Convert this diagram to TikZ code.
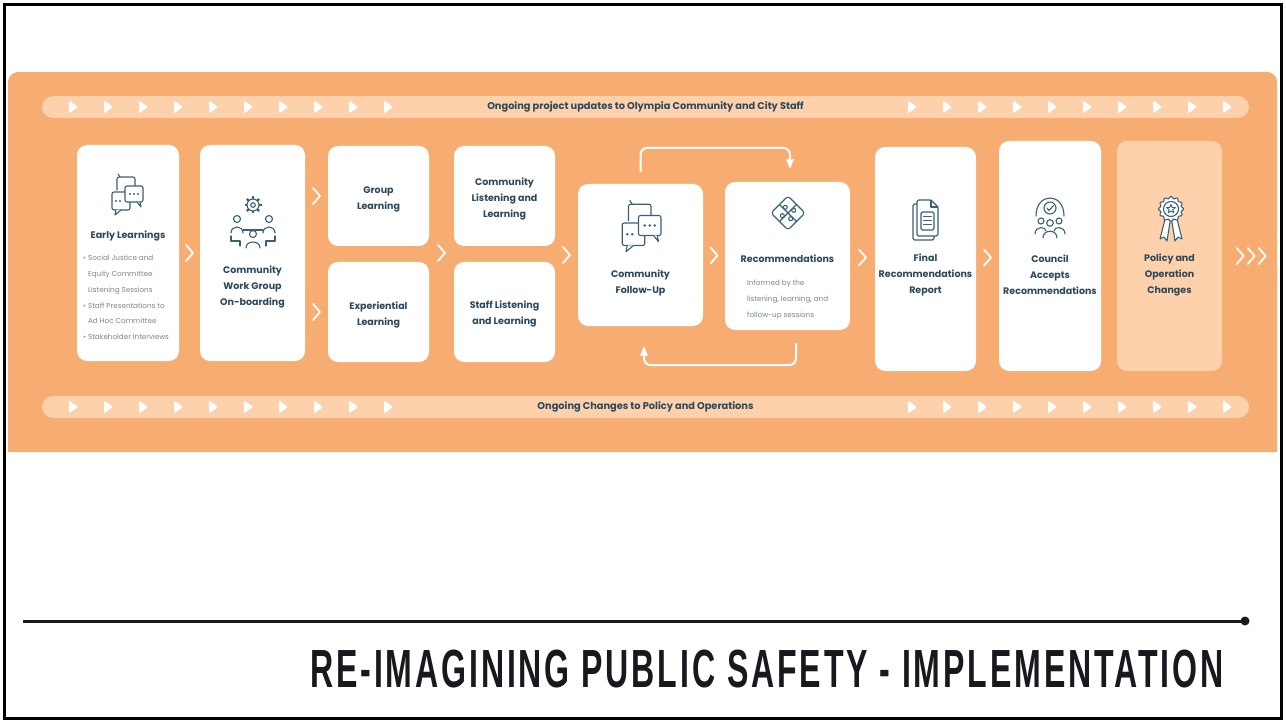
\documentclass[tikz,border=0pt]{standalone}
\usepackage{fontspec}
\setmainfont{Poppins}
\newfontfamily\titlefont[FakeStretch=0.56, LetterSpace=5]{Liberation Sans}
\usetikzlibrary{arrows,calc,positioning}

\definecolor{panel}{RGB}{247,173,113}
\definecolor{pale}{RGB}{252,209,172}
\definecolor{ink}{RGB}{44,72,92}
\definecolor{notegrey}{RGB}{120,134,145}
\definecolor{iconc}{RGB}{58,96,118}
\definecolor{titleink}{RGB}{24,24,30}

% small marks and icons
\tikzset{
  play/.pic={\fill[white, rounded corners=1.2pt] (-4,-6.5) -- (5,0) -- (-4,6.5) -- cycle;},
  chevron/.pic={\draw[chev, pic actions] (-3.5,-8) -- (3.5,0) -- (-3.5,8);},
  chat/.pic={
    \draw[icon, rounded corners=2pt] (-10,-6) -- (-10,-19) -- (8,-19) -- (8,-10);
    \draw[icon] (-7,-19) -- (-9,-22);
    \draw[icon, fill=white, rounded corners=2pt] (-15,-4) rectangle (3,14);
    \draw[icon, fill=white] (-11,14) -- (-12,19) -- (-6,14);
    \fill[iconc] (-11,5) circle (1.1pt) (-7,5) circle (1.1pt);
    \draw[icon, fill=white, rounded corners=2pt] (-2,-10) rectangle (16,6);
    \draw[icon, fill=white] (10,6) -- (14,11) -- (13,6);
    \fill[iconc] (3,-2) circle (1.1pt) (7,-2) circle (1.1pt) (11,-2) circle (1.1pt);
  },
  team/.pic={
    \begin{scope}[shift={(0,-16)}]
      \foreach \a in {0,45,...,315} \draw[icon, line width=2.4pt, line cap=butt] (\a:5) -- (\a:8.5);
      \draw[icon, fill=white] (0,0) circle (6pt);
      \draw[icon] (0,0) circle (2.3pt);
    \end{scope}
    \draw[icon] (-16,-2) circle (3.5pt) (16,-2) circle (3.5pt) (0,13) circle (3.5pt);
    \draw[icon] (-22,12) .. controls (-22,4) and (-10,4) .. (-10,12);
    \draw[icon] (22,12) .. controls (22,4) and (10,4) .. (10,12);
    \draw[icon] (-10,9) -- (10,9);
    \draw[icon] (-22,15) -- (-22,20) -- (-13,20) -- (-13,25);
    \draw[icon] (22,15) -- (22,20) -- (13,20) -- (13,25);
    \draw[icon] (-7,27) .. controls (-7,19) and (7,19) .. (7,27);
  },
  puzzle/.pic={
    \draw[icon, rounded corners=3pt] (0,-17) -- (17,0) -- (0,17) -- (-17,0) -- cycle;
    \draw[icon] (-8.5,-8.5) -- (8.5,8.5) (8.5,-8.5) -- (-8.5,8.5);
    \draw[icon, fill=white] (5.7,-2.7) circle (2pt) (-2.7,-5.7) circle (2pt)
                            (-5.7,2.7) circle (2pt) (2.7,5.7) circle (2pt);
  },
  report/.pic={
    \draw[icon, rounded corners=1.5pt] (-8,-16) -- (-12,-16) -- (-12,20) -- (9,20) -- (9,16);
    \draw[icon, fill=white, rounded corners=1.5pt] (-8,-20) -- (6,-20) -- (13,-13) -- (13,16) -- (-8,16) -- cycle;
    \draw[icon] (6,-20) -- (6,-13) -- (13,-13);
    \draw[icon, rounded corners=1.5pt] (-4,-8) rectangle (9,10);
    \foreach \y in {-4,0,4} \draw[icon, line width=0.9pt] (-1.5,\y) -- (6.5,\y);
  },
  council/.pic={
    \draw[icon] (-14,-1) .. controls (-14,-25) and (14,-25) .. (14,-1);
    \draw[icon] (0,-9) circle (6pt);
    \draw[icon] (-3,-9) -- (-1,-6.5) -- (3.5,-11.5);
    \draw[icon] (-9,4) circle (3pt) (9,4) circle (3pt) (0,6) circle (3.3pt);
    \draw[icon] (-15,17) .. controls (-15,9) and (-4,9) .. (-4,14);
    \draw[icon] (15,17) .. controls (15,9) and (4,9) .. (4,14);
    \draw[icon, fill=white] (-7,21) .. controls (-7,12) and (7,12) .. (7,21);
  },
  award/.pic={
    \draw[icon, fill=white] (-6,1) -- (-11,21) -- (-7,19) -- (-4,23) -- (-1,4);
    \draw[icon, fill=white] (6,1) -- (11,21) -- (7,19) -- (4,23) -- (1,4);
    \begin{scope}[shift={(0,-9)}]
      \draw[icon, fill=white] plot[domain=0:357, samples=120] ({\x}:{11.5+cos(12*\x)}) -- cycle;
      \draw[icon] (0,0) circle (7.5pt);
      \draw[icon, line width=0.9pt] plot[samples at={0,...,9}] ({-90+36*\x}:{ifthenelse(mod(\x,2)==0,4.6,2)}) -- cycle;
    \end{scope}
  },
}

\begin{document}
\begin{tikzpicture}[x=1pt, y=-1pt, >=stealth',
    stage/.style={fill=white, rounded corners=10pt, inner sep=0pt},
    lbl/.style={text=ink, font=\bfseries\fontsize{9.5}{16}\selectfont, align=center, inner sep=0pt},
    note/.style={text=notegrey, font=\fontsize{7.2}{15.8}\selectfont, align=left, inner sep=0pt, anchor=north west},
    bar/.style={fill=pale, rounded corners=11pt, minimum width=1207pt, minimum height=22pt,
                inner sep=0pt, text=ink, font=\bfseries\fontsize{9.8}{11}\selectfont},
    chev/.style={white, line width=1.8pt, line cap=round, line join=round},
    loopline/.style={white, line width=2pt, rounded corners=7pt},
    icon/.style={iconc, line width=1.1pt, line cap=round, line join=round},
  ]
    \useasboundingbox (0,0) rectangle (1286,722);
    \fill[white] (0,0) rectangle (1286,722);
    \draw[line width=3pt] (4.5,4.5) rectangle (1281.5,718.5);

    % Panel and bars
    \fill[panel, rounded corners=10pt] (8,452) [sharp corners] -- (8,100) [rounded corners=10pt] -- (8,72) -- (1277,72) [sharp corners] -- (1277,452) -- cycle;
    \node [bar] (updates) at (645.5,107) {Ongoing project updates to Olympia Community and City Staff};
    \node [bar] (changes) at (645.5,407) {Ongoing Changes to Policy and Operations};
    \foreach \y in {107,407}
      \foreach \i in {0,...,9} {
        \pic at (73+35*\i,\y) {play};
        \pic at (912+35*\i,\y) {play};
      }

    % Stages {early, cwg, group, exper, etc}
    \node [stage, minimum width=102pt, minimum height=216pt] (early)   at (128,253)   {};
    \node [stage, minimum width=105pt, minimum height=216pt] (cwg)     at (252.5,253) {};
    \node [stage, minimum width=101pt, minimum height=100pt] (group)   at (378.5,196) {};
    \node [stage, minimum width=101pt, minimum height=100pt] (exper)   at (378.5,312) {};
    \node [stage, minimum width=101pt, minimum height=100pt] (clisten) at (504.5,196) {};
    \node [stage, minimum width=101pt, minimum height=100pt] (slisten) at (504.5,312) {};
    \node [stage, minimum width=125pt, minimum height=142pt] (follow)  at (640.5,255) {};
    \node [stage, minimum width=125pt, minimum height=148pt] (recs)    at (787.5,256) {};
    \node [stage, minimum width=101pt, minimum height=224pt] (final)   at (925.5,259) {};
    \node [stage, minimum width=102pt, minimum height=230pt] (council) at (1050,256)  {};
    \node [stage, minimum width=105pt, minimum height=230pt, fill=pale] (policy) at (1169.5,256) {};

    % Icons
    \pic at (127,196) {chat};
    \pic at (253,221) {team};
    \pic[scale=1.25] at (641,228) {chat};
    \pic at (788,213) {puzzle};
    \pic at (925,220) {report};
    \pic at (1050,217) {council};
    \pic at (1171,218) {award};

    % Labels
    \node [lbl] (early-t)   at (128,236)   {Early Learnings};
    \node [note] (early-n)  at (83,255)    {• Social Justice and\\\phantom{• }Equity Committee\\\phantom{• }Listening Sessions\\• Staff Presentations to\\\phantom{• }Ad Hoc Committee\\• Stakeholder Interviews};
    \node [lbl] (cwg-t)     at (252.5,287) {Community\\Work Group\\On-boarding};
    \node [lbl] (group-t)   at (378.5,199) {Group\\Learning};
    \node [lbl] (exper-t)   at (378.5,315) {Experiential\\Learning};
    \node [lbl] (clisten-t) at (504.5,199) {Community\\Listening and\\Learning};
    \node [lbl] (slisten-t) at (504.5,314) {Staff Listening\\and Learning};
    \node [lbl] (follow-t)  at (640.5,283) {Community\\Follow-Up};
    \node [lbl] (recs-t)    at (787.5,259) {Recommendations};
    \node [note] (recs-n)   at (747,280)   {Informed by the\\listening, learning, and\\follow-up sessions};
    \node [lbl] (final-t)   at (925.5,275) {Final\\Recommendations\\Report};
    \node [lbl] (council-t) at (1050,275)  {Council\\Accepts\\Recommendations};
    \node [lbl] (policy-t)  at (1169.5,275) {Policy and\\Operation\\Changes};

    % Chevrons
    \pic at ($(early.east)!.5!(cwg.west)$) {chevron};
    \pic at ($(cwg.east|-group)!.5!(group.west)$) {chevron};
    \pic at ($(cwg.east|-exper)!.5!(exper.west)$) {chevron};
    \pic at ($(group.east|-cwg)!.5!(clisten.west|-cwg)$) {chevron};
    \pic at ($(clisten.east|-follow)!.5!(follow.west)$) {chevron};
    \pic at ($(follow.east)!.5!(recs.west)$) {chevron};
    \pic at ($(recs.east)!.5!(final.west)$) {chevron};
    \pic at ($(final.east)!.5!(council.west)$) {chevron};
    \foreach \k in {0,1,2}
      \pic[draw=pale] at ([xshift={(18+11*\k)*1pt}]policy.east) {chevron};

    % Feedback loop
    \draw [loopline, ->] ([yshift=12pt]follow.north) -- ++(0,-24) -| ([xshift=2.5pt, yshift=14pt]recs.north);
    \draw [loopline, ->] ([xshift=8.5pt, yshift=-13pt]recs.south) -- ++(0,22) -| ([xshift=3.5pt, yshift=-21pt]follow.south);

    % Title
    \coordinate (rule-l) at (23,621);
    \coordinate (rule-r) at (1245,621);
    \draw [titleink, line width=3pt] (rule-l) -- (rule-r);
    \fill [titleink] (rule-r) circle (4.5pt);
    \node [anchor=base west, inner sep=0pt, text=titleink] (title) at (310,687)
      {\resizebox{913pt}{37.5pt}{\titlefont\bfseries RE-IMAGINING PUBLIC SAFETY - IMPLEMENTATION}};
\end{tikzpicture}
\end{document}
